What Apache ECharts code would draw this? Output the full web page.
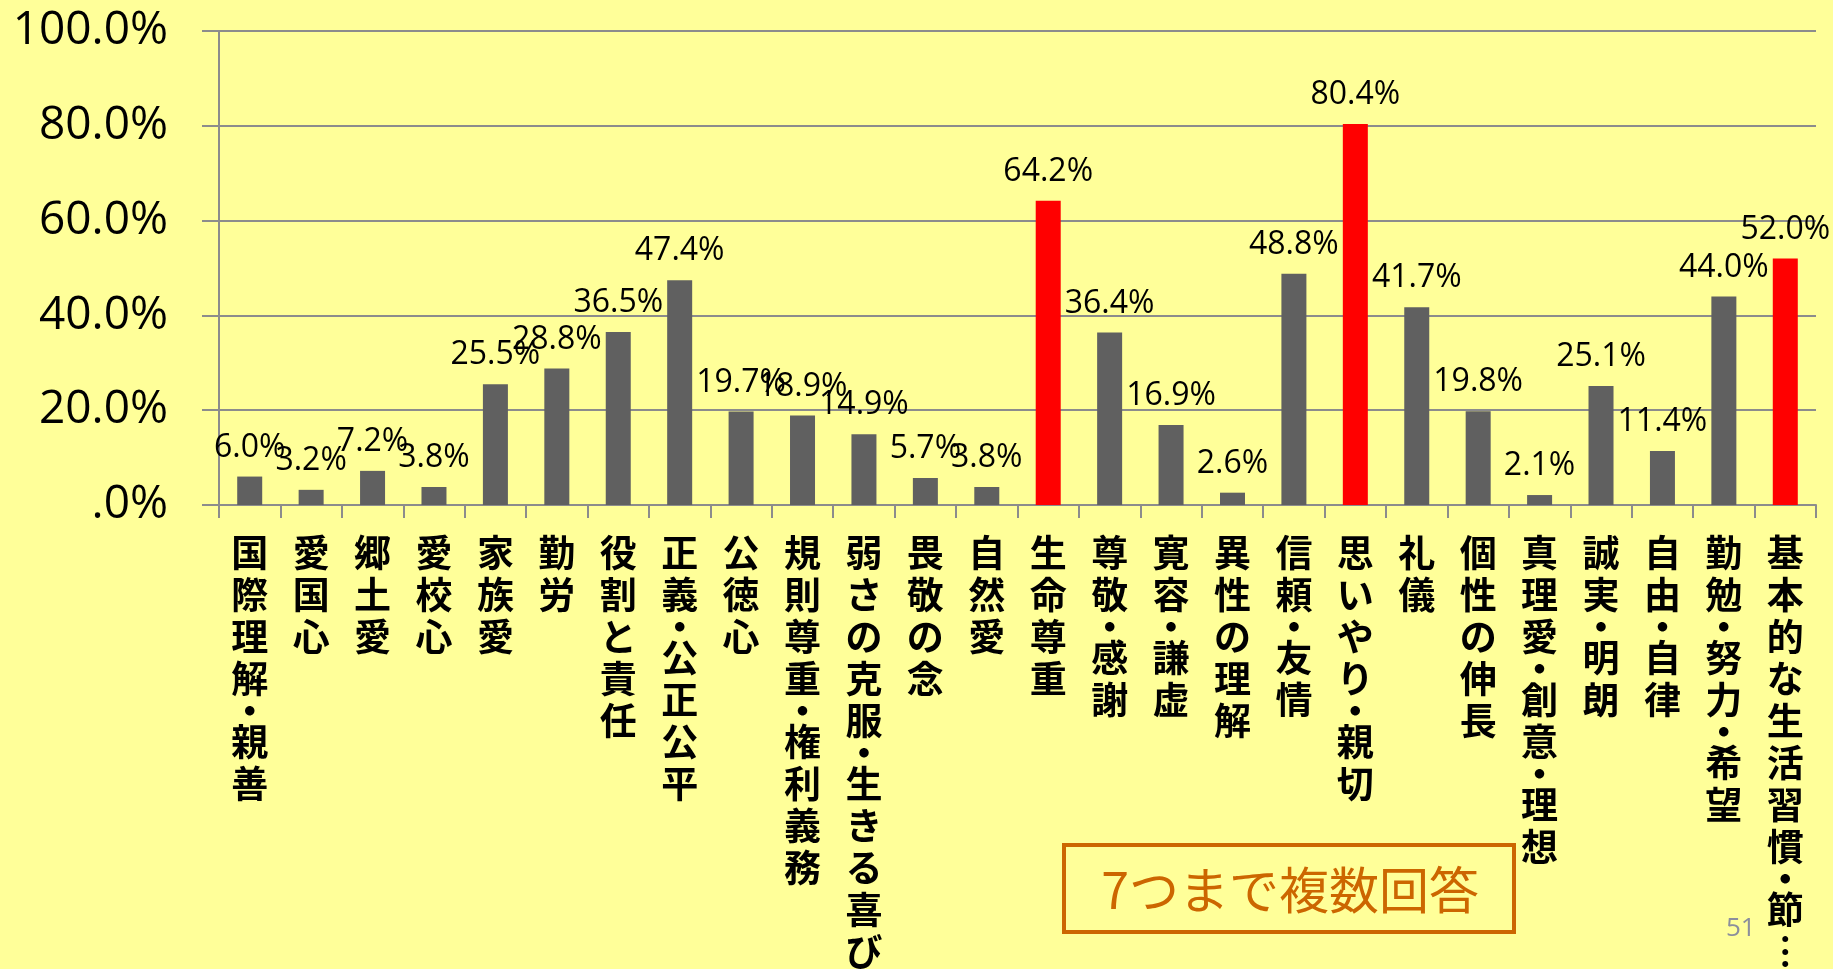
<!DOCTYPE html>
<html>
<head>
<meta charset="utf-8">
<script src="https://cdn.jsdelivr.net/npm/echarts@6/dist/echarts.min.js"></script>
<style>
  html,body{margin:0;padding:0;background:#ffff99;}
  #main{width:1833px;height:969px;}
</style>
</head>
<body>
<div id="main"></div>
<script>
// 徳目（カテゴリ）
var categories = ['国際理解・親善','愛国心','郷土愛','愛校心','家族愛','勤労','役割と責任','正義・公正公平','公徳心',
    '規則尊重・権利義務','弱さの克服・生きる喜び','畏敬の念','自然愛','生命尊重','尊敬・感謝','寛容・謙虚','異性の理解',
    '信頼・友情','思いやり・親切','礼儀','個性の伸長','真理愛・創意・理想','誠実・明朗','自由・自律','勤勉・努力・希望',
    '基本的な生活習慣・節…'];
// 割合（%）
var values = [6.0, 3.2, 7.2, 3.8, 25.5, 28.8, 36.5, 47.4, 19.7, 18.9, 14.9, 5.7, 3.8, 64.2, 36.4, 16.9, 2.6,
    48.8, 80.4, 41.7, 19.8, 2.1, 25.1, 11.4, 44.0, 52.0];
// 赤で強調する項目
var highlighted = ['生命尊重', '思いやり・親切', '基本的な生活習慣・節…'];
// 目盛
var yTicks = [0, 20, 40, 60, 80, 100];

var myChart = echarts.init(document.getElementById('main'));

var numFont = '"Open Sans", "Noto Sans", sans-serif';
var jpFont = '"Noto Sans CJK JP", sans-serif';
var gridColor = '#8c8c8c';

// 縦書き用：1文字ずつ改行、「・」は半分の高さ
function verticalLabel(s) {
    var lines = [];
    for (var i = 0; i < s.length; i++) {
        var c = s.charAt(i);
        if (c === '・') lines.push('{d|・}');
        else if (c === '…') lines.push('{c|︙}');
        else lines.push('{c|' + c + '}');
    }
    return lines.join('\n');
}

myChart.setOption({
    backgroundColor: '#ffff99',
    animation: false,
    grid: {left: 219, right: 17, top: 31, bottom: 464, outerBoundsMode: 'none'},
    xAxis: {
        type: 'category',
        data: categories,
        axisLine: {lineStyle: {color: gridColor, width: 2}},
        axisTick: {show: true, length: 13, lineStyle: {color: gridColor, width: 2}},
        axisLabel: {
            interval: 0,
            margin: 27,
            formatter: verticalLabel,
            rich: {
                c: {fontSize: 37, lineHeight: 42, fontWeight: 'bold', fontFamily: jpFont, color: '#000'},
                d: {fontSize: 37, lineHeight: 21, fontWeight: 'bold', fontFamily: jpFont, color: '#000'}
            }
        }
    },
    yAxis: {
        type: 'value',
        min: yTicks[0],
        max: yTicks[yTicks.length - 1],
        interval: 20,
        axisLine: {show: true, lineStyle: {color: gridColor, width: 2}},
        axisTick: {show: true, length: 17, lineStyle: {color: gridColor, width: 2}},
        splitLine: {lineStyle: {color: gridColor, width: 2}},
        axisLabel: {
            margin: 51,
            fontSize: 46,
            fontFamily: numFont,
            color: '#000',
            formatter: function (v) {
                return v === 0 ? '.0%' : v.toFixed(1) + '%';
            }
        }
    },
    series: [{
        type: 'bar',
        data: values,
        barWidth: 25,
        itemStyle: {
            color: function (p) {
                return highlighted.indexOf(p.name) >= 0 ? '#ff0000' : '#606060';
            }
        },
        label: {
            show: true,
            position: 'top',
            distance: 13,
            fontSize: 32,
            fontFamily: numFont,
            color: '#000',
            formatter: function (p) {
                return p.value.toFixed(1) + '%';
            }
        }
    }],
    graphic: [
        {
            type: 'rect',
            shape: {x: 1064, y: 845, width: 450, height: 87},
            style: {fill: 'rgba(0,0,0,0)', stroke: '#cc6600', lineWidth: 4}
        },
        {
            type: 'text',
            x: 1290, y: 890,
            style: {text: '7つまで複数回答', fontSize: 50, fontFamily: jpFont, fill: '#cc6600', align: 'center', verticalAlign: 'middle'}
        },
        {
            type: 'text',
            x: 1726, y: 916,
            style: {text: '51', fontSize: 26, fontFamily: numFont, fill: '#8c8f9c'}
        }
    ]
});
</script>
</body>
</html>
